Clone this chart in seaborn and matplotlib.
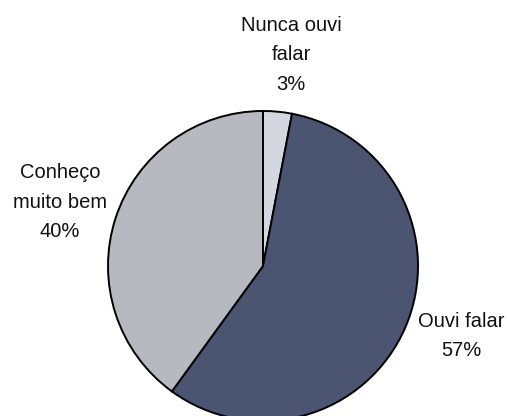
import matplotlib
matplotlib.use("Agg")
import matplotlib.pyplot as plt
import seaborn as sns

categories = ["Nunca ouvi\nfalar", "Ouvi falar", "Conheço\nmuito bem"]
values = [3, 57, 40]
colors = ["#d3d7df", "#4b5571", "#b7b9c1"]

sns.set_theme(style="white")
plt.rcParams['font.family'] = ['Liberation Sans', 'DejaVu Sans']

fig = plt.figure(figsize=(5.09, 4.16), dpi=100)
ax = fig.add_axes([0, 0, 1, 1])

cx, cy, r = 263, 416 - 266, 155
ax.pie(values, colors=colors, startangle=90, counterclock=False,
       center=(cx, cy), radius=r, frame=True,
       wedgeprops=dict(edgecolor="black", linewidth=1.4))
ax.set_xlim(0, 509)
ax.set_ylim(0, 416)
ax.axis("off")

label_pos = [(291, 416 - 55), (461, 416 - 336), (60, 416 - 202)]
for cat, v, (x, y) in zip(categories, values, label_pos):
    ax.text(x, y, f"{cat}\n{v}%", ha="center", va="center", fontsize=14.5,
            linespacing=1.72, color="#111111")

fig.savefig("out.png", dpi=100)
